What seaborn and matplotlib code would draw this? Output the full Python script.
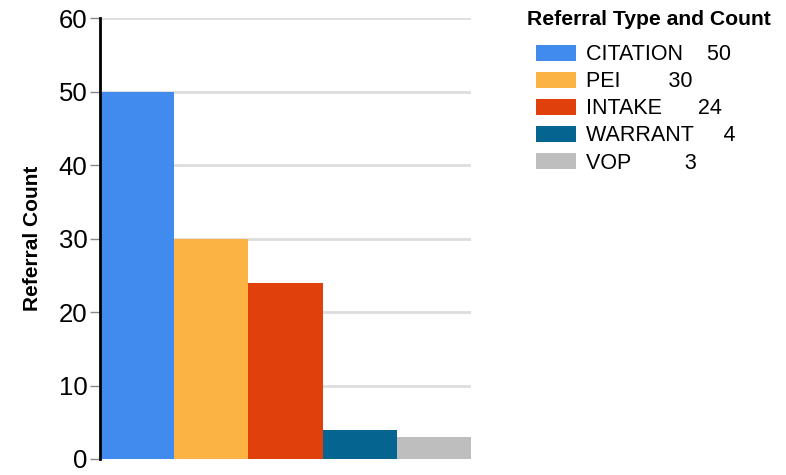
import pandas as pd
import seaborn as sns
import matplotlib.pyplot as plt
from matplotlib.patches import Patch

types = ['CITATION', 'PEI', 'INTAKE', 'WARRANT', 'VOP']
counts = [50, 30, 24, 4, 3]
colors = ['#418BEE', '#FBB343', '#E0400C', '#066491', '#BEBEBE']
pads = [4, 8, 6, 5, 9]

df = pd.DataFrame({'type': types, 'count': counts})

sns.set_style('white')
plt.rcParams['font.family'] = ['Liberation Sans', 'DejaVu Sans']
plt.rcParams['text.color'] = 'black'
plt.rcParams['axes.labelcolor'] = 'black'
plt.rcParams['ytick.labelcolor'] = 'black'

fig = plt.figure(figsize=(7.86, 4.75), dpi=100)
ax = fig.add_axes([0.1272, 0.0337, 0.472, 0.928])

sns.barplot(data=df, x='type', y='count', hue='type', palette=colors,
            width=1.0, dodge=False, legend=False, ax=ax, saturation=1, linewidth=0)

ax.set_xlim(-0.5, 4.5)
ax.set_ylim(0, 60)
ax.set_yticks(range(0, 61, 10))
ax.yaxis.grid(True, color='#DDDDDD', linewidth=2)
ax.set_axisbelow(True)
ax.set_xticks([])
ax.set_xlabel('')
ax.set_ylabel('Referral Count', fontsize=15, fontweight='bold', labelpad=12)
ax.tick_params(axis='y', labelsize=18.5, length=7, color='#888888', width=1, pad=2, left=True)
for s in ['top', 'right', 'bottom']:
    ax.spines[s].set_visible(False)
ax.spines['left'].set_color('black')
ax.spines['left'].set_linewidth(2)

handles = [Patch(facecolor=c, edgecolor='none') for c in colors]
labels = [f"{t}{' ' * p}{n}" for t, n, p in zip(types, counts, pads)]
leg = fig.legend(handles, labels, loc='upper left', bbox_to_anchor=(0.657, 1.0),
                 frameon=False, fontsize=15.5, title='Referral Type and Count',
                 title_fontproperties={'weight': 'bold', 'size': 15.2},
                 handlelength=1.85, handleheight=0.75, labelspacing=0.28,
                 handletextpad=0.5)
leg._legend_box.align = 'left'
leg.get_title().set_position((-9, 9))

fig.savefig('out.png', dpi=100)
